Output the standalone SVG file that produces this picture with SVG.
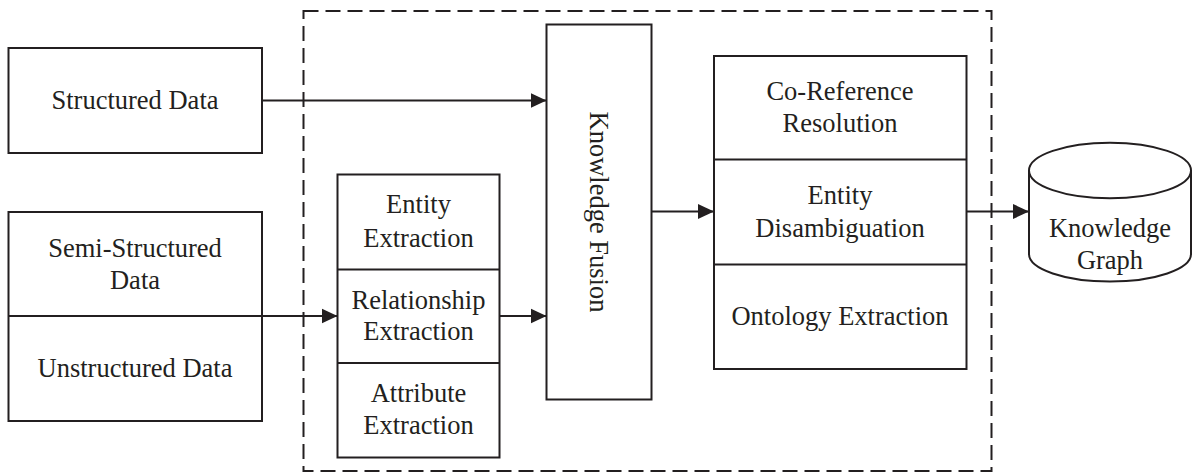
<svg xmlns="http://www.w3.org/2000/svg" width="1195" height="473" viewBox="0 0 1195 473">
  <style>
    .box { fill: #ffffff; stroke: #231f20; stroke-width: 2; }
    .line { fill: none; stroke: #231f20; stroke-width: 2; }
    .dash { fill: none; stroke: #231f20; stroke-width: 2; stroke-dasharray: 15 7; }
    .conn { fill: none; stroke: #231f20; stroke-width: 2; marker-end: url(#arrow); }
    text { font-family: "Liberation Serif", "Times New Roman", serif; font-size: 26.5px; fill: #231f20; text-anchor: middle; }
  </style>
  <defs>
    <marker id="arrow" markerUnits="userSpaceOnUse" markerWidth="17" markerHeight="16" refX="16" refY="8" orient="auto">
      <path d="M0,0.5 L16,8 L0,15.5 Z" fill="#231f20"/>
    </marker>
  </defs>
  <rect width="1195" height="473" fill="#ffffff"/>

  <g id="boundary">
    <rect class="dash" x="303.5" y="11" width="688" height="460"/>
  </g>

  <g id="connectors">
    <line class="conn" x1="262" y1="100.5" x2="546.5" y2="100.5"/>
    <line class="conn" x1="262" y1="316" x2="337.5" y2="316"/>
    <line class="conn" x1="499.5" y1="316" x2="546.5" y2="316"/>
    <line class="conn" x1="651.5" y1="211.5" x2="714" y2="211.5"/>
    <line class="conn" x1="966.5" y1="211.5" x2="1029" y2="211.5"/>
  </g>

  <g id="structured-data">
    <rect class="box" x="8.5" y="48" width="253.5" height="105"/>
    <text x="135" y="109">Structured Data</text>
  </g>

  <g id="semi-unstructured-data">
    <rect class="box" x="8.5" y="212" width="253.5" height="209"/>
    <line class="line" x1="8.5" y1="316" x2="262" y2="316"/>
    <text x="135" y="257">Semi-Structured</text>
    <text x="135" y="289">Data</text>
    <text x="135" y="377">Unstructured Data</text>
  </g>

  <g id="extraction">
    <rect class="box" x="337.5" y="174.5" width="162" height="283"/>
    <line class="line" x1="337.5" y1="269.5" x2="499.5" y2="269.5"/>
    <line class="line" x1="337.5" y1="363" x2="499.5" y2="363"/>
    <text x="418.5" y="213">Entity</text>
    <text x="418.5" y="246.5">Extraction</text>
    <text x="418.5" y="309">Relationship</text>
    <text x="418.5" y="340">Extraction</text>
    <text x="418.5" y="402">Attribute</text>
    <text x="418.5" y="434">Extraction</text>
  </g>

  <g id="knowledge-fusion">
    <rect class="box" x="546.5" y="24.5" width="105" height="375"/>
    <text transform="translate(599,212) rotate(90)" dominant-baseline="central">Knowledge Fusion</text>
  </g>

  <g id="fusion-steps">
    <rect class="box" x="714" y="56" width="252.5" height="313"/>
    <line class="line" x1="714" y1="159.5" x2="966.5" y2="159.5"/>
    <line class="line" x1="714" y1="264.5" x2="966.5" y2="264.5"/>
    <text x="840" y="100">Co-Reference</text>
    <text x="840" y="131.5">Resolution</text>
    <text x="840" y="203.5">Entity</text>
    <text x="840" y="236.5">Disambiguation</text>
    <text x="840" y="325">Ontology Extraction</text>
  </g>

  <g id="knowledge-graph">
    <path class="box" d="M1029,170.5 L1029,254 A81,27.5 0 0 0 1191,254 L1191,170.5 A81,27.8 0 0 0 1029,170.5 Z"/>
    <path class="line" d="M1029,170.5 A81,27.8 0 0 0 1191,170.5"/>
    <text x="1110" y="236.5">Knowledge</text>
    <text x="1110" y="268.5">Graph</text>
  </g>
</svg>
